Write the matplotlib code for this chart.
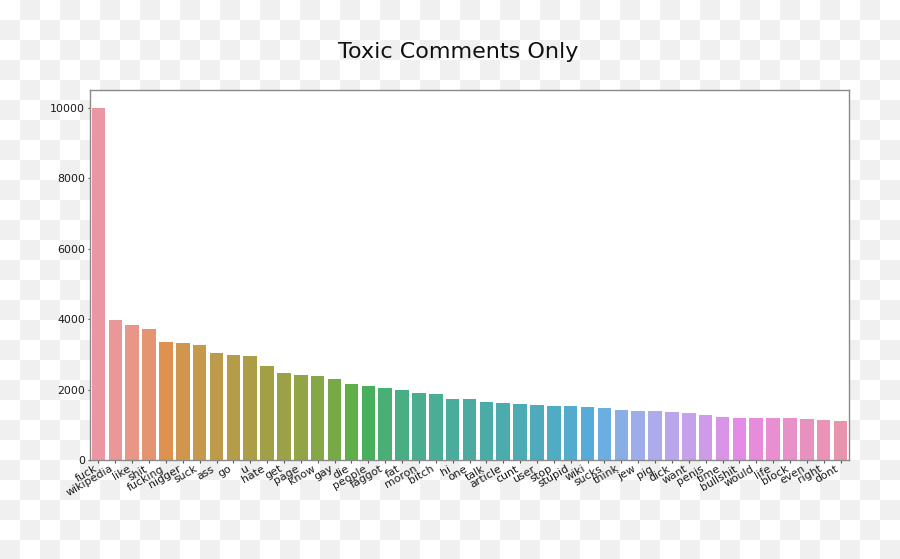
import numpy as np
import matplotlib
matplotlib.use("Agg")
import matplotlib.pyplot as plt
import seaborn as sns

words = ["fuck", "wikipedia", "like", "shit", "fucking", "nigger", "suck", "ass", "go", "u",
         "hate", "get", "page", "know", "gay", "die", "people", "faggot", "fat", "moron",
         "bitch", "hi", "one", "talk", "article", "cunt", "user", "stop", "stupid", "wiki",
         "sucks", "think", "jew", "pig", "dick", "want", "penis", "time", "bullshit", "would",
         "life", "block", "even", "right", "dont"]
counts = [10000, 3960, 3830, 3710, 3350, 3310, 3275, 3030, 2985, 2945,
          2680, 2470, 2405, 2390, 2295, 2170, 2105, 2055, 2000, 1915,
          1860, 1735, 1730, 1650, 1605, 1600, 1555, 1540, 1520, 1500,
          1475, 1425, 1390, 1385, 1360, 1330, 1265, 1218, 1190, 1188,
          1188, 1186, 1162, 1133, 1105]
yticks = [0, 2000, 4000, 6000, 8000, 10000]
title = "Toxic Comments Only"

W, H = 900, 559
fig = plt.figure(figsize=(W / 100, H / 100), dpi=100)
fig.patch.set_alpha(0)

# checkerboard background (transparency look)
yy, xx = np.mgrid[0:H, 0:W]
chk = ((xx // 20 + yy // 20) % 2).astype(float)
bg = np.where(chk[..., None] == 1, 240 / 255, 1.0) * np.ones((H, W, 3))
fig.figimage(bg, 0, 0, origin="upper", zorder=-10)

ax = fig.add_axes([90 / W, 1 - 460 / H, 759 / W, 370 / H])
ax.set_facecolor("white")

base = sns.husl_palette(len(words), h=.01, s=.9, l=.7)
colors = [sns.desaturate(c, 0.75) for c in base]
x = np.arange(len(words))
ax.bar(x, counts, width=0.8, color=colors, edgecolor="none")

ax.set_xlim(-0.5, len(words) - 0.5)
ax.set_ylim(0, 10500)
ax.set_yticks(yticks)
ax.set_yticklabels([str(v) for v in yticks])
ax.set_xticks(x)
ax.set_xticklabels(words, rotation=30, ha="right")

for s in ax.spines.values():
    s.set_color("#8a8a8a")
    s.set_linewidth(1.0)
ax.tick_params(axis="both", length=1.8, width=0.8, color="#555555",
               labelsize=7.9, labelcolor="#1a1a1a", pad=1.8)
ax.tick_params(axis="x", pad=0.8)

fig.text(458 / W, 1 - 58 / H, title, ha="center", va="baseline",
         fontsize=16, color="#111111")

fig.savefig("out.png", dpi=100, transparent=False)
